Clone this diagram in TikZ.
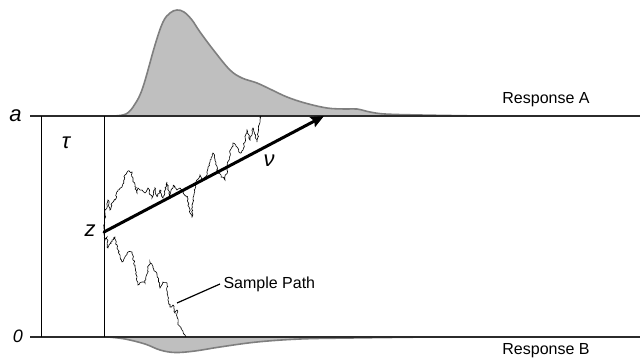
\documentclass[tikz,border=0pt]{standalone}
\usepackage{fontspec}
\setmainfont{Liberation Sans}
\usepackage{xcolor}
\usepackage{tikz}
\usetikzlibrary{positioning, arrows.meta, decorations.pathmorphing}
\definecolor{densfill}{HTML}{BFBFBF}
\definecolor{densline}{HTML}{7F7F7F}
\definecolor{bound}{HTML}{2B2B2B}

\tikzset{
  density/.style={fill=densfill, draw=densline, line width=1.6pt},
  boundary/.style={draw=bound, line width=1.8pt},
  timeline/.style={draw=black, line width=1pt},
  walk/.style={draw=black, line width=0.6pt,
    decorate, decoration={random steps, segment length=1.6pt, amplitude=0.9pt}},
  paramlbl/.style={font=\fontsize{22}{26}\selectfont\itshape},
  resplbl/.style={font=\fontsize{16}{19}\selectfont}
}

\begin{document}
\begin{tikzpicture}[x=1pt, y=-1pt]
    \useasboundingbox (0,0) rectangle (640,361);
    \pgfmathsetseed{4711}

    % first-passage densities
    \path[density] plot[smooth, tension=0.6] coordinates {
      (112,116) (126,114) (135,104) (143,87) (155,45) (163,22) (170,13)
      (177,10) (184,12) (192,20) (200,32) (215,52) (230,70) (242,78)
      (257,83) (272,90) (287,97) (305,103) (327,108) (345,109) (357,109)
      (370,112) (385,114) (420,115) (480,116)} -- cycle;
    \path[density] plot[smooth, tension=0.6] coordinates {
      (108,337) (125,339) (145,344) (160,350) (175,352.5) (195,351)
      (220,347) (257,342) (300,339) (350,338) (430,337)} -- cycle;

    % boundaries and time axis
    \coordinate (atop) at (30,116);
    \coordinate (aend) at (640,116);
    \coordinate (btop) at (30,337);
    \coordinate (bend) at (640,337);
    \coordinate (ter) at (41,116);
    \coordinate (teb) at (41,337);
    \coordinate (stt) at (104,116);
    \coordinate (stb) at (104,337);
    \draw[boundary] (atop) -- (aend);
    \draw[boundary] (btop) -- (bend);
    \draw[timeline] (ter) -- (teb);
    \draw[timeline] (stt) -- (stb);

    % sample paths
    \coordinate (z0) at (104,232);
    \draw[walk] (z0) -- (105,213) -- (108,200) -- (110,210) -- (112,203)
      -- (115,200) -- (118,190) -- (122,187) -- (125,175) -- (128,171)
      -- (132,172) -- (133,180) -- (137,193) -- (138,188) -- (142,190)
      -- (145,193) -- (148,188) -- (152,198) -- (155,188) -- (157,197)
      -- (160,190) -- (163,198) -- (167,182) -- (170,197) -- (173,185)
      -- (177,190) -- (180,188) -- (183,193) -- (187,197) -- (190,213)
      -- (192,217) -- (193,200) -- (197,180) -- (200,175) -- (203,180)
      -- (207,175) -- (210,162) -- (213,153) -- (216,163) -- (218,173)
      -- (222,177) -- (225,180) -- (227,170) -- (230,153) -- (233,143)
      -- (237,147) -- (240,153) -- (243,150) -- (247,130) -- (250,140)
      -- (253,128) -- (257,142) -- (258,133) -- (260,120) -- (261,116);
    \draw[walk] (z0) -- (105,240) -- (107,237) -- (108,248) -- (112,240)
      -- (115,237) -- (117,248) -- (122,262) -- (125,257) -- (128,252)
      -- (132,252) -- (135,267) -- (138,285) -- (142,282) -- (145,283)
      -- (148,268) -- (150,262) -- (153,268) -- (157,275) -- (160,288)
      -- (163,282) -- (167,283) -- (168,297) -- (170,307) -- (173,305)
      -- (175,313) -- (177,310) -- (178,323) -- (182,330) -- (185,335)
      -- (186,337);

    % drift
    \coordinate (vend) at (324,116);
    \draw[line width=3pt, line cap=round, -{Stealth[length=13pt, width=11pt, inset=2pt]}]
      (z0) -- (vend);

    % labels
    \node[paramlbl] (alab) at (15.5,116) {a};
    \node[paramlbl, font=\fontsize{18}{22}\selectfont\itshape] (zerolab) at (18,336) {0};
    \node[paramlbl] (taulab) at (66,143) {τ};
    \node[paramlbl] (zlab) at (90,231) {z};
    \node[paramlbl] (nulab) at (269,161) {ν};
    \node[resplbl] (resa) at (546,100) {Response A};
    \node[resplbl] (resb) at (546,351) {Response B};
    \node[resplbl, anchor=west] (splab) at (220,284) {Sample Path};
    \coordinate (sptip) at (177,303);
    \draw[line width=1.2pt] (splab.west) -- (sptip);
\end{tikzpicture}
\end{document}
